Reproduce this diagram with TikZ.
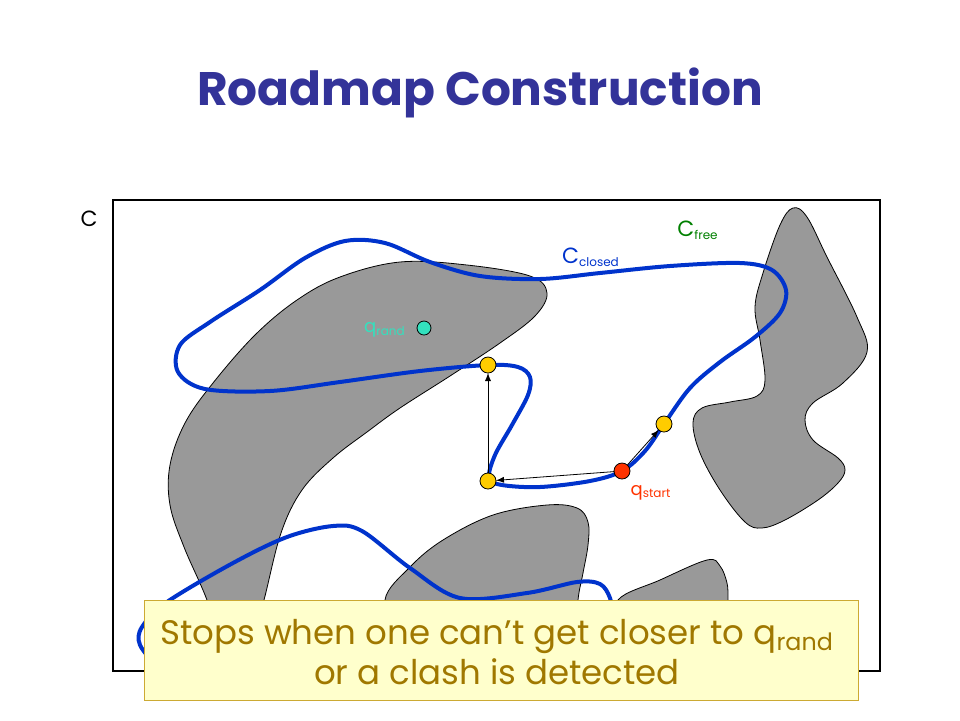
\documentclass[tikz,border=0pt]{standalone}
\usepackage{fontspec}
\setmainfont{Poppins}
\usepackage{tikz}

\definecolor{titleblue}{RGB}{51,51,153}
\definecolor{roadblue}{RGB}{0,51,204}
\definecolor{obsgray}{RGB}{153,153,153}
\definecolor{randcyan}{RGB}{51,225,190}
\definecolor{startred}{RGB}{255,51,0}
\definecolor{ptyellow}{RGB}{255,204,0}
\definecolor{freegreen}{RGB}{0,128,0}
\definecolor{notefill}{RGB}{255,255,204}
\definecolor{noteline}{RGB}{204,170,51}
\definecolor{notetext}{RGB}{160,120,0}

\newcommand{\bigC}{{\fontsize{11}{12}\selectfont C}}

\begin{document}
\begin{tikzpicture}[x=0.5pt,y=-0.5pt,
        every node/.style={inner sep=0pt, outer sep=0pt, font=\fontsize{9}{10}\selectfont},
        obstacle/.style={fill=obsgray, draw=black, line width=0.4pt},
        road/.style={draw=roadblue, line width=2pt, line join=round},
        sample/.style={circle, draw=black, line width=0.4pt, minimum size=8pt},
        extend/.style={-latex, line width=0.4pt}]
            \useasboundingbox (0,0) rectangle (960,720);
            \node[text=titleblue, font=\fontsize{23.5}{28}\selectfont\bfseries] (title) at (480,93) {Roadmap Construction};
            \node (cspace) at (89,219) {\bigC};
            \draw[line width=0.6pt] (113,200) rectangle (880,671);
            \draw[obstacle] plot[smooth cycle, tension=0.6] coordinates {(340,277) (400,262) (467,265) (530,276) (547,293) (535,316) (500,343) (450,376) (400,408) (367,432) (333,458) (302,490) (281,533) (264,600) (250,650) (225,655) (207,600) (184,547) (170,505) (170,465) (185,423) (213,383) (255,335) (297,300)};
            \draw[obstacle] plot[smooth cycle, tension=0.6] coordinates {(793,208) (807,217) (827,257) (857,317) (867,352) (843,383) (813,403) (805,420) (813,440) (838,458) (845,470) (838,483) (818,500) (785,520) (762,528) (745,522) (720,490) (700,453) (693,423) (702,408) (730,402) (757,396) (765,380) (760,340) (755,307) (763,273) (780,225)};
            \draw[obstacle] plot[smooth cycle, tension=0.6] coordinates {(547,505) (577,508) (588,522) (588,545) (583,573) (578,600) (576,640) (400,640) (385,600) (410,567) (443,540) (493,515)};
            \draw[obstacle] plot[smooth cycle, tension=0.6] coordinates {(618,600) (660,580) (707,560) (720,566) (727,583) (728,600) (728,630) (620,630)};
            \draw[road] plot[smooth cycle, tension=0.55] coordinates {(488,365) (420,371) (340,382) (270,391) (205,389) (178,372) (180,345) (210,322) (260,290) (305,258) (345,241) (385,243) (430,262) (480,276) (540,279) (600,273) (670,266) (740,263) (772,270) (786,290) (780,313) (755,337) (720,362) (690,388) (664,424) (645,451) (622,471) (590,481) (540,487) (502,485) (489,478) (495,455) (512,425) (528,395) (530,377) (518,367)};
            \draw[road] plot[smooth, tension=0.55] coordinates {(158,668) (140,645) (142,627) (167,602) (233,563) (287,537) (333,526) (362,531) (410,568) (460,598) (527,593) (577,582) (600,584) (610,598) (614,620)};
            \node[sample, fill=randcyan, minimum size=7pt] (qrand) at (424,328) {};
            \node[sample, fill=ptyellow] (near) at (488,365) {};
            \node[sample, fill=ptyellow] (turn) at (488,481) {};
            \node[sample, fill=ptyellow] (ahead) at (664,424) {};
            \node[sample, fill=startred] (qstart) at (622,471) {};
            \draw[extend] (qstart) -- (turn);
            \draw[extend] (turn) -- (near);
            \draw[extend] (qstart) -- (ahead);
            \node[text=randcyan] (randlbl) at (385,330) {q\textsubscript{rand}};
            \node[text=startred] (startlbl) at (651,493) {q\textsubscript{start}};
            \node[text=roadblue] (closedlbl) at (591,257) {\bigC\textsubscript{closed}};
            \node[text=freegreen] (freelbl) at (698,230) {\bigC\textsubscript{free}};
            \node[fill=notefill, draw=noteline, line width=0.5pt, minimum width=357pt, minimum height=50pt] (note) at (501,650) {};
            \node[text=notetext, align=center, font=\fontsize{17}{20}\selectfont] (notetxt) at (497,652) {Stops when one can’t get closer to q\textsubscript{rand}\\or a clash is detected};
        \end{tikzpicture}
\end{document}
